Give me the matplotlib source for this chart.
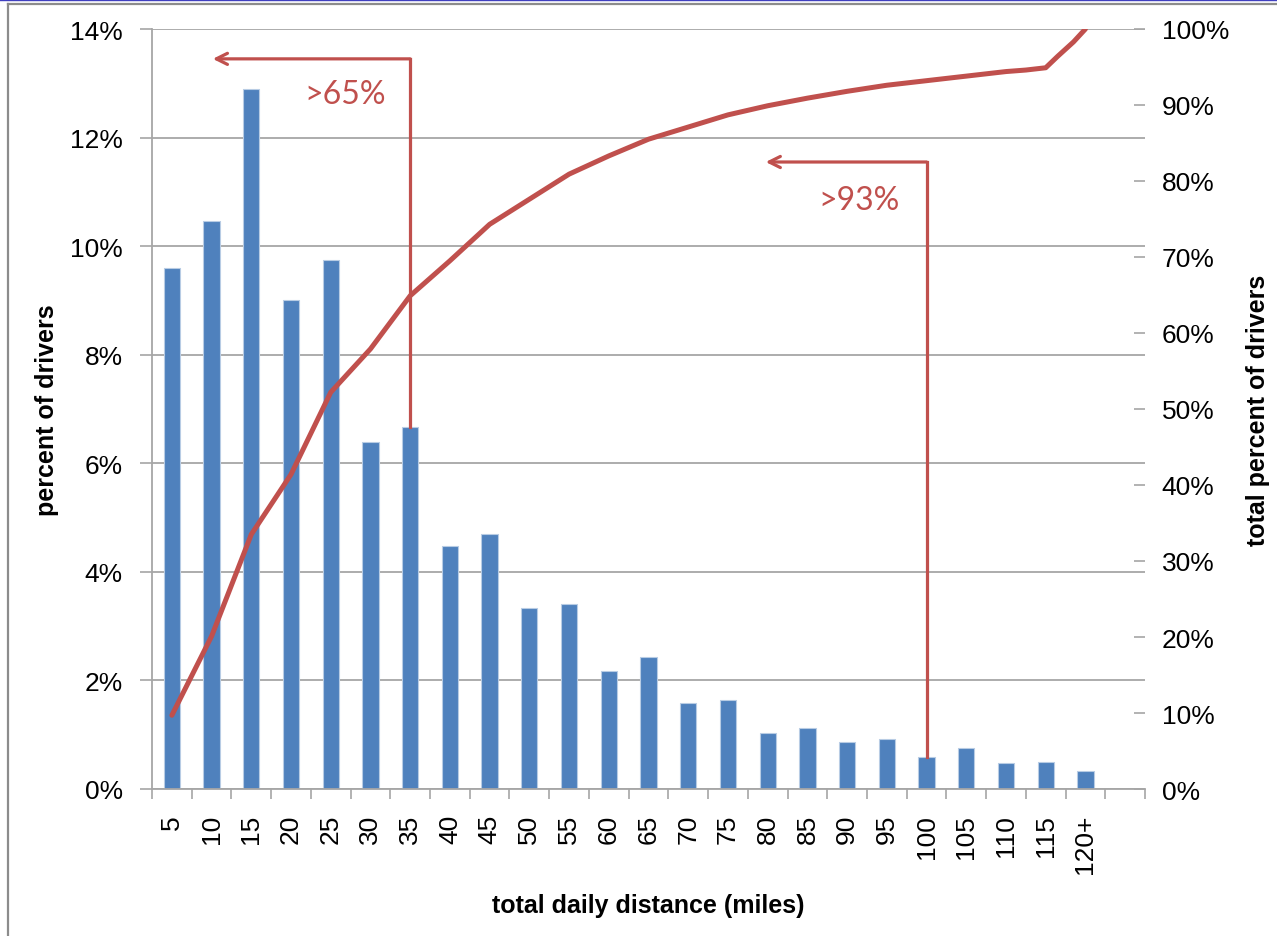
import matplotlib
matplotlib.use("Agg")
import matplotlib.pyplot as plt
from matplotlib.lines import Line2D
from matplotlib.ticker import FixedLocator, FuncFormatter

plt.rcParams['font.family'] = ['Liberation Sans', 'DejaVu Sans']

# distance bins (miles) and share of drivers per bin (%)
categories = ['5', '10', '15', '20', '25', '30', '35', '40', '45', '50', '55', '60',
              '65', '70', '75', '80', '85', '90', '95', '100', '105', '110', '115', '120+']
pct_drivers = [9.59, 10.46, 12.89, 9.00, 9.74, 6.40, 6.67, 4.48, 4.70, 3.33, 3.40, 2.17,
               2.43, 1.58, 1.64, 1.03, 1.12, 0.86, 0.93, 0.59, 0.75, 0.47, 0.50, 0.34]

# cumulative curve (x in bin index, y in %)
cum_x = [0, 1, 2, 3, 4, 5, 6, 7, 8, 9, 10, 11, 12, 13, 14, 15, 16, 17, 18, 19, 20, 21,
         21.5, 22, 22.3, 22.7, 23]
cum_y = [9.7, 20.1, 33.5, 41.4, 52.2, 57.9, 64.9, 69.5, 74.3, 77.6, 80.9, 83.3, 85.5, 87.1,
         88.7, 89.9, 90.9, 91.8, 92.6, 93.2, 93.8, 94.4, 94.6, 94.9, 96.4, 98.3, 100.0]

blue = '#4F81BD'
red = '#C0504D'
grid_c = '#A6A6A6'

fig = plt.figure(figsize=(12.77, 9.37), dpi=100)
ax = fig.add_axes([152 / 1277, 1 - 790 / 937, (1145 - 152) / 1277, 760 / 937])
ax2 = ax.twinx()

x = list(range(len(categories)))
ax.bar(x, pct_drivers, width=0.41, color=blue, edgecolor='#B8CCE4', linewidth=0.8, zorder=2)

ax.set_xlim(-0.5, len(categories) + 0.5)
ax.set_ylim(0, 14)
ax.set_yticks(range(0, 15, 2))
ax.yaxis.set_major_formatter(FuncFormatter(lambda v, p: f'{int(v)}%'))
ax.grid(axis='y', color=grid_c, linewidth=1.3, zorder=0)
ax.set_axisbelow(True)

ax.set_xticks(x)
ax.set_xticklabels(categories, rotation=90, fontsize=19)
ax.xaxis.set_minor_locator(FixedLocator([i - 0.5 for i in range(len(categories) + 2)]))
ax.tick_params(axis='x', which='major', length=0, pad=18)
ax.tick_params(axis='x', which='minor', length=7, width=1.2, color=grid_c)
ax.tick_params(axis='y', length=9, width=1.2, color=grid_c, labelsize=19, pad=12)

for s in ['top', 'right']:
    ax.spines[s].set_visible(False)
for s in ['left', 'bottom']:
    ax.spines[s].set_color(grid_c)
    ax.spines[s].set_linewidth(1.3)

ax2.plot(cum_x, cum_y, color=red, linewidth=3.6, solid_capstyle='round',
         solid_joinstyle='round', zorder=3)
ax2.set_ylim(0, 100)
ax2.set_yticks(range(0, 101, 10))
ax2.yaxis.set_major_formatter(FuncFormatter(lambda v, p: f'{int(v)}%'))
ax2.tick_params(axis='y', direction='in', length=8, width=1.2, color=grid_c,
                labelsize=19, pad=12)
for s in ax2.spines.values():
    s.set_visible(False)

ax.set_ylabel('percent of drivers', fontsize=18, fontweight='bold', labelpad=8)
ax2.set_ylabel('total percent of drivers', fontsize=18, fontweight='bold', labelpad=12)
ax.set_xlabel('total daily distance (miles)', fontsize=18, fontweight='bold', labelpad=14)

# callout arrows
callouts = [(6, 13.45, 1.03, '>65%', 4.37, 12.8),
            (19, 11.55, 14.95, '>93%', 17.3, 10.85)]
for xi, ytop, xtip, label, tx, ty in callouts:
    ax.plot([xi, xi], [pct_drivers[xi], ytop], color=red, linewidth=2.3,
            solid_capstyle='projecting', zorder=4)
    ax.annotate('', xy=(xtip, ytop), xytext=(xi, ytop),
                arrowprops=dict(arrowstyle='->,head_length=0.8,head_width=0.4',
                                color=red, lw=2.3, shrinkA=0, shrinkB=0), zorder=4)
    ax.text(tx, ty, label, color=red, fontsize=23, family=['Lato', 'DejaVu Sans'],
            ha='center', va='center', zorder=4)

# slide frame
fig.add_artist(Line2D([8 / 1277, 8 / 1277], [0, 1 - 5 / 937], transform=fig.transFigure,
                      color='#8C8C8C', linewidth=1.6))
fig.add_artist(Line2D([8 / 1277, 1], [1 - 5 / 937, 1 - 5 / 937], transform=fig.transFigure,
                      color='#8C8C8C', linewidth=1.6))
fig.add_artist(Line2D([0, 1], [1 - 0.8 / 937, 1 - 0.8 / 937], transform=fig.transFigure,
                      color='#4040C0', linewidth=1.0))

fig.savefig('out.png', dpi=100)
